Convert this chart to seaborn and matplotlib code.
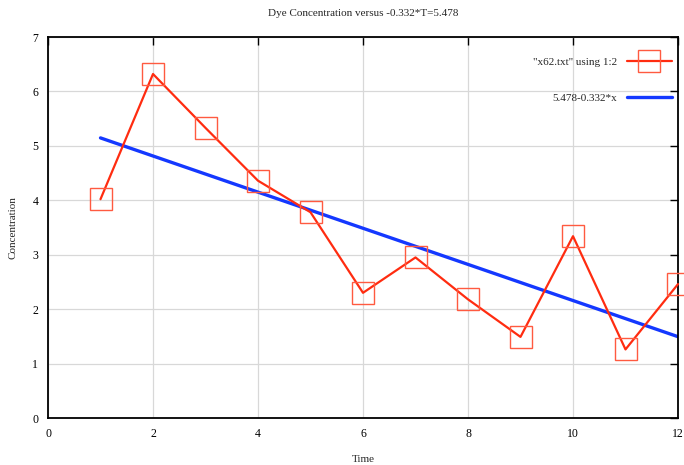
import matplotlib
matplotlib.use("Agg")
import matplotlib.pyplot as plt
import seaborn as sns
import pandas as pd

# data
time = [1, 2, 3, 4, 5, 6, 7, 8, 9, 10, 11, 12]
conc = [4.02, 6.32, 5.33, 4.36, 3.78, 2.30, 2.95, 2.18, 1.49, 3.34, 1.26, 2.46]
fit_x = [1, 12]
fit_y = [5.146, 1.494]  # 5.478-0.332*x

x_ticks = [0, 2, 4, 6, 8, 10, 12]
y_ticks = [0, 1, 2, 3, 4, 5, 6, 7]

data_label = '"x62.txt" using 1:2'
fit_label = "5.478-0.332*x"

sns.set_style("white")
plt.rcParams["font.family"] = ["Liberation Serif", "DejaVu Serif"]
plt.rcParams["font.size"] = 8

df = pd.DataFrame({"Time": time, "Concentration": conc})
fit_df = pd.DataFrame({"Time": fit_x, "Concentration": fit_y})

fig = plt.figure(figsize=(6.84, 4.65), dpi=100)
ax = fig.add_axes([48 / 684, 47 / 465, 630 / 684, 381 / 465])

line_red = "#ff2c10"
box_red = "#ff5a40"
blue = "#1438ff"

sns.lineplot(data=df, x="Time", y="Concentration", ax=ax, color=line_red,
             linewidth=1.6, marker="s", markersize=16.5, markerfacecolor="none",
             markeredgecolor=box_red, markeredgewidth=1.0, label=data_label,
             clip_on=False, zorder=3)
sns.lineplot(data=fit_df, x="Time", y="Concentration", ax=ax, color=blue,
             linewidth=2.4, label=fit_label, zorder=2)

ax.set_xlim(0, 12)
ax.set_ylim(0, 7)
ax.set_xticks(x_ticks)
ax.set_yticks(y_ticks)
ax.grid(True, color="#d8d8d8", linewidth=0.9)
ax.set_axisbelow(True)
ax.tick_params(direction="in", length=6, width=1, top=True, right=True,
               labelsize=8.5, pad=7, colors="black")
for s in ax.spines.values():
    s.set_color("black")
    s.set_linewidth(1.3)

ax.set_xlabel("Time", fontsize=8)
ax.set_ylabel("Concentration", fontsize=8)
ax.xaxis.set_label_coords(0.5, -0.097)
ax.yaxis.set_label_coords(-0.049, 0.5)
ax.set_title("Dye Concentration versus -0.332*T=5.478", fontsize=8, pad=14.8)

ax.legend(loc="upper right", frameon=False, markerfirst=False, fontsize=8,
          handlelength=4.05, handletextpad=0.9, labelspacing=2.3,
          borderaxespad=0, bbox_to_anchor=(0.9975, 0.958))

fig.savefig("out.png", dpi=100)
